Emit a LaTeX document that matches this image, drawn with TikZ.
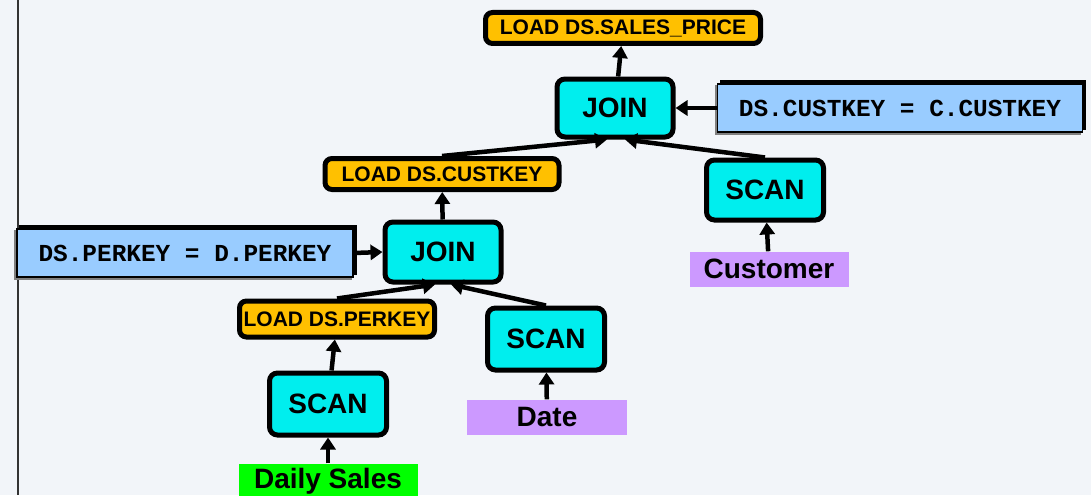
\documentclass[tikz,border=0pt]{standalone}
\usepackage{fontspec}
\setmainfont{Liberation Sans}
\setmonofont{Liberation Mono}
\usetikzlibrary{arrows.meta}
\definecolor{bgcol}{HTML}{F2F5F9}
\definecolor{opcyan}{HTML}{00EEEE}
\definecolor{loadorange}{HTML}{FFC000}
\definecolor{predblue}{HTML}{99CCFF}
\definecolor{tablepurple}{HTML}{CC99FF}
\definecolor{tablegreen}{HTML}{00FF00}
\tikzset{
  op/.style={draw=black, line width=5pt, fill=opcyan, rounded corners=8pt,
    minimum width=116pt, minimum height=60pt, inner sep=0pt,
    font=\fontsize{28}{28}\selectfont\bfseries},
  loadbox/.style={draw=black, line width=5pt, fill=loadorange, rounded corners=7pt,
    minimum height=31pt, inner sep=0pt,
    font=\fontsize{21}{21}\selectfont\bfseries},
  predicate/.style={fill=predblue, draw=black, line width=1.5pt, inner sep=0pt,
    minimum height=48pt,
    font=\fontsize{24.4}{24.4}\ttfamily\bfseries\selectfont},
  tbl/.style={inner sep=0pt, minimum width=160pt, minimum height=35pt,
    font=\fontsize{28}{28}\selectfont\bfseries},
  flow/.style={line width=4.5pt, -{Triangle[length=12pt,width=15pt]}},
}
% bevelled drop shadow behind a predicate box
\newcommand{\predshadow}[1]{%
  \fill[gray] ([shift={(-2pt,-2pt)}]#1.north west) rectangle ([shift={(-2pt,-2pt)}]#1.south east);
  \fill[black] ([shift={(3pt,3pt)}]#1.north west) rectangle ([shift={(3pt,3pt)}]#1.south east);
}
\begin{document}
\begin{tikzpicture}[x=1pt, y=-1pt]
  \fill[bgcol] (0,0) rectangle (1091,495);
  \useasboundingbox (0,0) rectangle (1091,495);
  \draw[line width=1.5pt, black!80] (18,0) -- (18,495);

  % operator tree
  \node[loadbox, minimum width=275pt] (lsp) at (623,28) {LOAD DS.SALES\_PRICE};
  \node[op, minimum height=58pt] (joinA) at (615,108) {JOIN};
  \node[loadbox, minimum width=234pt] (lck) at (442,174) {LOAD DS.CUSTKEY};
  \node[op, minimum width=117pt] (scanC) at (765,190) {SCAN};
  \node[op] (joinB) at (443,252) {JOIN};
  \node[loadbox, minimum width=195pt, minimum height=36pt] (lpk) at (337,319) {LOAD DS.PERKEY};
  \node[op, minimum width=117pt, minimum height=62pt] (scanD) at (546,339) {SCAN};
  \node[op, minimum width=117pt, minimum height=62pt] (scanS) at (328,404) {SCAN};

  % source tables
  \node[tbl, fill=tablepurple, minimum width=159pt] (cust) at (769,269) {Customer};
  \node[tbl, fill=tablepurple] (date) at (547,417) {Date};
  \node[tbl, fill=tablegreen, minimum width=179pt] (daily) at (328,481) {Daily Sales};

  % join predicates
  \node[predicate, minimum width=365pt, opacity=0] (pc0) at (900,108) {};
  \predshadow{pc0}
  \node[predicate, minimum width=365pt] (pc) at (900,108) {DS.CUSTKEY = C.CUSTKEY};
  \node[predicate, minimum width=336pt, opacity=0] (pp0) at (185,253) {};
  \predshadow{pp0}
  \node[predicate, minimum width=336pt] (pp) at (185,253) {DS.PERKEY = D.PERKEY};

  % data flow
  \draw[flow] (joinA) -- (lsp);
  \draw[flow] (lck.north) -- ([xshift=-8pt]joinA.south);
  \draw[flow] (scanC.north) -- ([xshift=10pt]joinA.south);
  \draw[flow] (pc.west) -- (joinA.east);
  \draw[flow] (joinB) -- (lck);
  \draw[flow] (lpk.north) -- ([xshift=-8pt]joinB.south);
  \draw[flow] (scanD.north) -- ([xshift=8pt]joinB.south);
  \draw[flow] (pp.east) -- (joinB.west);
  \draw[flow] (scanS) -- (lpk);
  \draw[flow] (daily) -- (scanS);
  \draw[flow] (date) -- (scanD);
  \draw[flow] (cust) -- (scanC);
\end{tikzpicture}
\end{document}
